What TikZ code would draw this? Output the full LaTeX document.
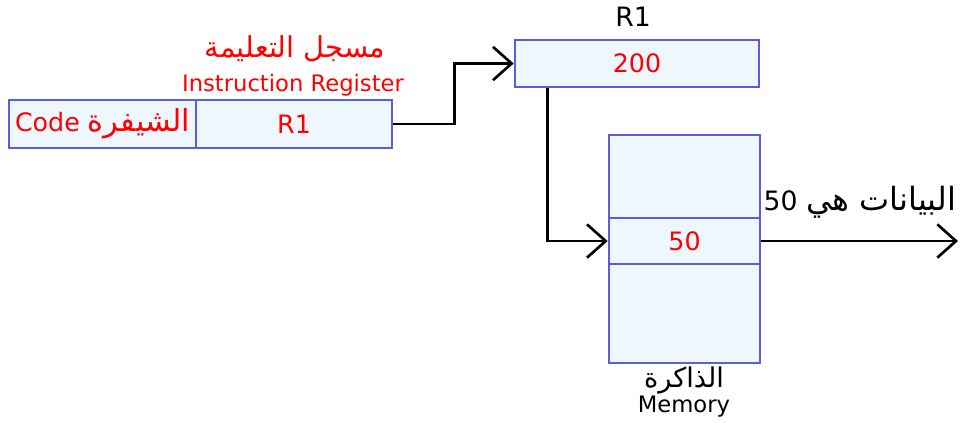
\documentclass[tikz,border=0pt]{standalone}
\usepackage{fontspec}
\setmainfont{DejaVu Sans}
\newfontfamily\arabicfont[Script=Arabic,Scale=1.2]{DejaVu Sans}
\TeXXeTstate=1
\usetikzlibrary{arrows.meta}
\definecolor{cellfill}{RGB}{238,246,254}
\definecolor{cellline}{RGB}{92,92,222}
\tikzset{
  cell/.style={draw=cellline, fill=cellfill, line width=2pt, inner sep=0pt, font=\fontsize{19}{21}\selectfont},
  lbl/.style={inner sep=0.75pt, font=\fontsize{17}{19}\selectfont},
  arr/.style={line width=2pt, -{Straight Barb[length=14pt,width=25pt,line width=2pt]}}
}

\begin{document}
\begin{tikzpicture}[x=0.75pt,y=0.75pt,yscale=-1,xscale=1]
            \useasboundingbox (0,0) rectangle (960,422);
            \node [cell, text=red, minimum width=140.25pt, minimum height=36pt] (code) at (102.5,124) {Code {\arabicfont\beginR الشيفرة\endR}};
            \node [cell, text=red, minimum width=147pt, minimum height=36pt] (ir) at (294,124) {R1};
            \node [cell, text=red, minimum width=183pt, minimum height=35.25pt] (reg) at (637,63.5) {200};
            \node [cell, minimum width=113.25pt, minimum height=62.25pt] (memtop) at (684.5,176.5) {};
            \node [cell, text=red, minimum width=113.25pt, minimum height=34.5pt] (memmid) at (684.5,241) {50};
            \node [cell, minimum width=113.25pt, minimum height=74.25pt] (membot) at (684.5,313.5) {};
            \node [lbl, text=red, font=\fontsize{18}{20}\selectfont] (irar) at (295,49) {\arabicfont\beginR مسجل التعليمة\endR};
            \node [lbl, text=red] (iren) at (293,85) {Instruction Register};
            \node [lbl, font=\fontsize{20}{22}\selectfont] (regname) at (633,17) {R1};
            \node [lbl] (memar) at (684,380) {\arabicfont\beginR الذاكرة\endR};
            \node [lbl] (memen) at (684,407) {Memory};
            \node [lbl, font=\fontsize{20}{22}\selectfont] (outlbl) at (860,202) {50 {\arabicfont\beginR البيانات هي\endR}};
            \coordinate (out) at (958,241);
            \draw [arr] (ir.east) -- ++(61,0) |- (reg.west);
            \draw [arr] ([xshift=25.5pt]reg.south west) |- (memmid.west);
            \draw [arr] (memmid.east) -- (out);
        \end{tikzpicture}
\end{document}
